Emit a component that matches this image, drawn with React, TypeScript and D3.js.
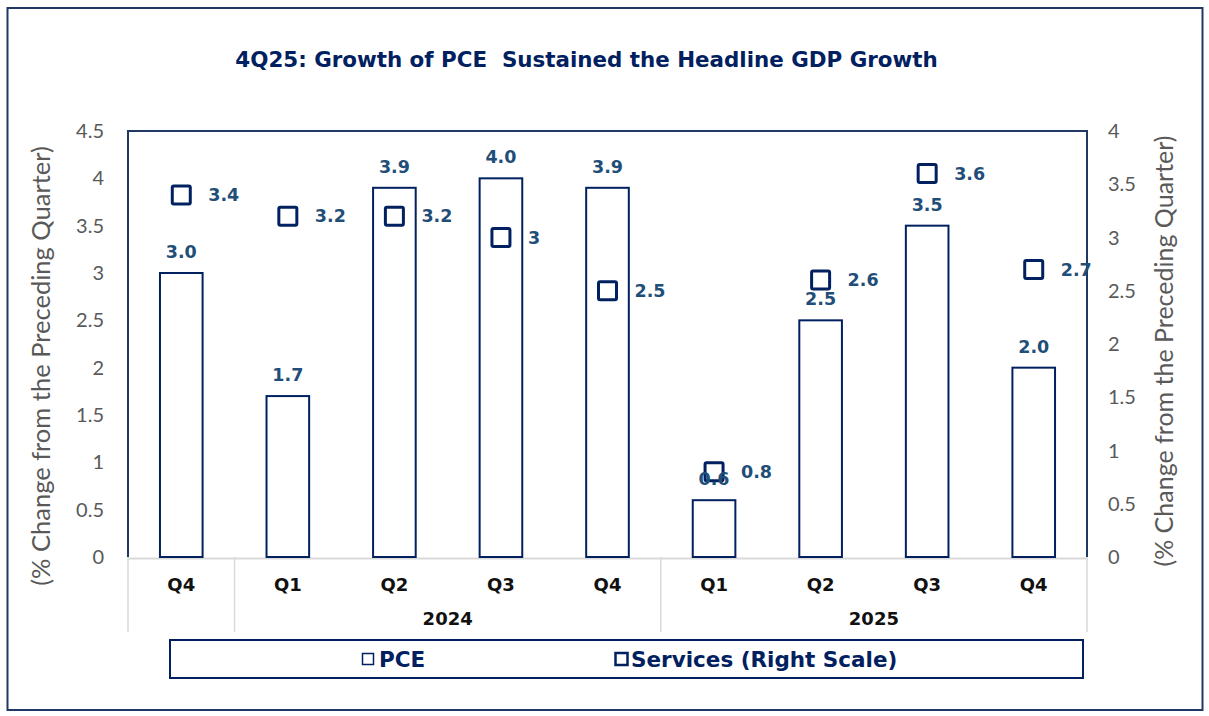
import React from 'react';
import * as d3 from 'd3';

const periods = ['2023 Q4', '2024 Q1', '2024 Q2', '2024 Q3', '2024 Q4', '2025 Q1', '2025 Q2', '2025 Q3', '2025 Q4'];
const pce = [3.0, 1.7, 3.9, 4.0, 3.9, 0.6, 2.5, 3.5, 2.0];
const services = [3.4, 3.2, 3.2, 3, 2.5, 0.8, 2.6, 3.6, 2.7];
const yearLabels = ['', '2024', '2025'];
const yearSpans = [1, 4, 4];

const W = 1209;
const H = 716;
const plot = { left: 128, right: 1087, top: 131, bottom: 557 };

const navy = '#002060';
const labelBlue = '#1F4E79';
const tickGray = '#595959';
const sepGray = '#D9D9D9';
const bold = 'DejaVu Sans, Verdana, sans-serif';
const light = 'Lato, Calibri, sans-serif';

export default function App() {
    const x = d3
        .scaleBand<string>()
        .domain(periods)
        .range([plot.left, plot.right])
        .paddingInner(0.6)
        .paddingOuter(0.3);
    const step = x.step();
    const cx = (p: string) => (x(p) ?? 0) + x.bandwidth() / 2;

    const yL = d3.scaleLinear().domain([0, 4.5]).range([plot.bottom, plot.top]);
    const yR = d3.scaleLinear().domain([0, 4]).range([plot.bottom, plot.top]);
    const fmt = d3.format('~g');

    // year group boundaries along the category axis
    let acc = 0;
    const groups = yearLabels.map((label, i) => {
        const start = acc;
        acc += yearSpans[i];
        const x0 = plot.left + start * step;
        const x1 = plot.left + acc * step;
        return { label, x0, x1 };
    });
    const bounds = [plot.left, ...groups.map((g) => g.x1)];

    const markerSize = 18;

    return (
        <svg
            width={W}
            height={H}
            viewBox={`0 0 ${W} ${H}`}
            style={{ position: 'absolute', left: 0, top: 0, background: '#fff' }}
        >
            <rect x={7.5} y={8} width={1195} height={702} fill="#fff" stroke="#1F3864" strokeWidth={2} />

            <text
                x={586.5}
                y={67}
                textAnchor="middle"
                fontFamily={bold}
                fontWeight="bold"
                fontSize={21.4}
                fill={navy}
                style={{ whiteSpace: 'pre' }}
            >
                {'4Q25: Growth of PCE  Sustained the Headline GDP Growth'}
            </text>

            {/* plot frame */}
            <path
                d={`M${plot.left},${plot.bottom}V${plot.top}H${plot.right}V${plot.bottom}`}
                fill="none"
                stroke="#1F3864"
                strokeWidth={2}
            />

            {/* value axes */}
            {yL.ticks(9).map((t) => (
                <text
                    key={'l' + t}
                    x={104}
                    y={yL(t)}
                    dy="0.35em"
                    textAnchor="end"
                    fontFamily={light}
                    fontSize={20}
                    fill={tickGray}
                >
                    {fmt(t)}
                </text>
            ))}
            {yR.ticks(8).map((t) => (
                <text
                    key={'r' + t}
                    x={1108}
                    y={yR(t)}
                    dy="0.35em"
                    textAnchor="start"
                    fontFamily={light}
                    fontSize={20}
                    fill={tickGray}
                >
                    {fmt(t)}
                </text>
            ))}
            <text
                transform="translate(41,366) rotate(-90)"
                textAnchor="middle"
                dy="0.35em"
                fontFamily={light}
                fontSize={25.5}
                fill={tickGray}
            >
                (% Change from the Preceding Quarter)
            </text>
            <text
                transform="translate(1164,351) rotate(-90)"
                textAnchor="middle"
                dy="0.35em"
                fontFamily={light}
                fontSize={25}
                fill={tickGray}
            >
                (% Change from the Preceding Quarter)
            </text>

            {/* category axis */}
            <line x1={plot.left} x2={plot.right} y1={plot.bottom + 1.5} y2={plot.bottom + 1.5} stroke={sepGray} strokeWidth={2} />
            {bounds.map((b, i) => (
                <line key={'s' + i} x1={b} x2={b} y1={plot.bottom} y2={632} stroke={sepGray} strokeWidth={1.5} />
            ))}
            {periods.map((p) => (
                <text
                    key={'q' + p}
                    x={cx(p)}
                    y={585}
                    dy="0.35em"
                    textAnchor="middle"
                    fontFamily={bold}
                    fontWeight="bold"
                    fontSize={18}
                    fill="#111"
                >
                    {p.split(' ')[1]}
                </text>
            ))}
            {groups.map((g) => (
                <text
                    key={'y' + g.label}
                    x={(g.x0 + g.x1) / 2}
                    y={619}
                    dy="0.35em"
                    textAnchor="middle"
                    fontFamily={bold}
                    fontWeight="bold"
                    fontSize={18}
                    fill="#111"
                >
                    {g.label}
                </text>
            ))}

            {/* PCE bars */}
            {periods.map((p, i) => (
                <rect
                    key={'b' + p}
                    x={x(p)}
                    y={yL(pce[i])}
                    width={x.bandwidth()}
                    height={plot.bottom - yL(pce[i])}
                    fill="#fff"
                    stroke={navy}
                    strokeWidth={2}
                />
            ))}

            {/* Services markers */}
            {periods.map((p, i) => (
                <rect
                    key={'m' + p}
                    x={cx(p) - markerSize / 2}
                    y={yR(services[i]) - markerSize / 2}
                    width={markerSize}
                    height={markerSize}
                    rx={1.5}
                    fill="#fff"
                    stroke={navy}
                    strokeWidth={3}
                />
            ))}
            {periods.map((p, i) => (
                <text
                    key={'ml' + p}
                    x={cx(p) + 27}
                    y={yR(services[i])}
                    dy="0.35em"
                    fontFamily={bold}
                    fontWeight="bold"
                    fontSize={17.5}
                    fill={labelBlue}
                >
                    {String(services[i])}
                </text>
            ))}
            {periods.map((p, i) => (
                <text
                    key={'bl' + p}
                    x={cx(p)}
                    y={yL(pce[i]) - 15}
                    textAnchor="middle"
                    fontFamily={bold}
                    fontWeight="bold"
                    fontSize={17.5}
                    fill={labelBlue}
                >
                    {pce[i].toFixed(1)}
                </text>
            ))}

            {/* legend */}
            <rect x={170} y={640} width={913} height={38} fill="#fff" stroke={navy} strokeWidth={2} />
            <rect x={362.5} y={653.5} width={11} height={11} fill="#fff" stroke={navy} strokeWidth={1.5} />
            <text x={379} y={667} fontFamily={bold} fontWeight="bold" fontSize={21.5} fill={navy}>
                PCE
            </text>
            <rect x={615.5} y={653} width={12} height={12} fill="#fff" stroke={navy} strokeWidth={2.5} />
            <text x={631} y={667} fontFamily={bold} fontWeight="bold" fontSize={21.5} fill={navy}>
                Services (Right Scale)
            </text>
        </svg>
    );
}
